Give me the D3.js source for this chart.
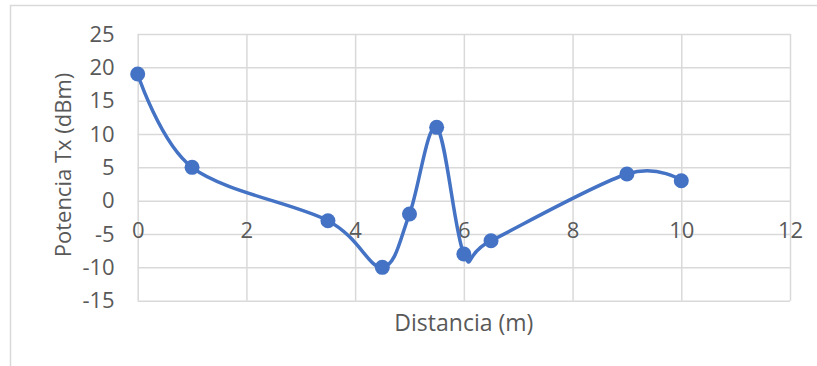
<!DOCTYPE html>
<html>
<head>
<meta charset="utf-8">
<script src="https://cdn.jsdelivr.net/npm/d3@7"></script>
<style>
  html, body { margin: 0; padding: 0; background: #fff; }
  svg { display: block; }
  text { font-family: "Open Sans", "Liberation Sans", sans-serif; fill: #595959; }
</style>
</head>
<body>
<svg id="chart" width="817" height="366"></svg>
<script>
// Distance (m) vs transmit power (dBm)
const distancia = [0, 1, 3.5, 4.5, 5, 5.5, 6, 6.5, 9, 10];
const potencia  = [19, 5, -3, -10, -2, 11, -8, -6, 4, 3];
const xTicks = [0, 2, 4, 6, 8, 10, 12];
const yTicks = [-15, -10, -5, 0, 5, 10, 15, 20, 25];
const xTitle = "Distancia (m)";
const yTitle = "Potencia Tx (dBm)";

const svg = d3.select("#chart");
const W = 817, H = 366;
const plot = { left: 137.7, right: 790, top: 34, bottom: 300.7 };
const blue = "#4472C4";
const grid = "#d9d9d9";
const fmt = d => String(d);   // plain hyphen for negatives

// outer chart frame
svg.append("rect")
  .attr("x", 10.5).attr("y", 5.5)
  .attr("width", W + 10).attr("height", H + 10)
  .attr("fill", "none").attr("stroke", grid).attr("stroke-width", 1.5);

const x = d3.scaleLinear().domain([0, 12]).range([plot.left, plot.right]);
const y = d3.scaleLinear().domain([-15, 25]).range([plot.bottom, plot.top]);

// horizontal gridlines + y labels
const yAxis = d3.axisLeft(y).tickValues(yTicks)
  .tickSize(-(plot.right - plot.left)).tickPadding(23).tickFormat(fmt);
const gy = svg.append("g").attr("transform", `translate(${plot.left},0)`).call(yAxis);
gy.select(".domain").remove();
gy.selectAll(".tick line").attr("stroke", grid).attr("stroke-width", 1.5);
gy.selectAll(".tick text").attr("font-size", 22).attr("fill", "#595959")
  .attr("font-family", "'Open Sans', sans-serif");

// vertical gridlines
const xGrid = d3.axisBottom(x).tickValues(xTicks)
  .tickSize(-(plot.bottom - plot.top)).tickFormat("");
const gx = svg.append("g").attr("transform", `translate(0,${plot.bottom})`).call(xGrid);
gx.select(".domain").remove();
gx.selectAll(".tick line").attr("stroke", grid).attr("stroke-width", 1.5);

// x tick labels sit along the zero line
const xLab = d3.axisBottom(x).tickValues(xTicks).tickSize(0).tickPadding(22).tickFormat(fmt);
const gxl = svg.append("g").attr("transform", `translate(0,${y(0)})`).call(xLab);
gxl.select(".domain").remove();
gxl.selectAll(".tick text").attr("font-size", 22).attr("fill", "#595959")
  .attr("font-family", "'Open Sans', sans-serif");

// axis titles
svg.append("text")
  .attr("x", (plot.left + plot.right) / 2).attr("y", 322)
  .attr("text-anchor", "middle").attr("dominant-baseline", "central")
  .attr("font-size", 23).text(xTitle);
svg.append("text")
  .attr("transform", `translate(62,165) rotate(-90)`)
  .attr("text-anchor", "middle").attr("dominant-baseline", "central")
  .attr("font-size", 22).text(yTitle);

// smoothed series line
const pts = distancia.map((d, i) => [d, potencia[i]]);
const line = d3.line()
  .x(d => x(d[0])).y(d => y(d[1]))
  .curve(d3.curveCatmullRom.alpha(0));
svg.append("path").datum(pts)
  .attr("d", line)
  .attr("fill", "none").attr("stroke", blue)
  .attr("stroke-width", 3.5).attr("stroke-linejoin", "round").attr("stroke-linecap", "round");

// markers
svg.append("g").selectAll("circle").data(pts).join("circle")
  .attr("cx", d => x(d[0])).attr("cy", d => y(d[1]))
  .attr("r", 7.5).attr("fill", blue);
</script>
</body>
</html>
